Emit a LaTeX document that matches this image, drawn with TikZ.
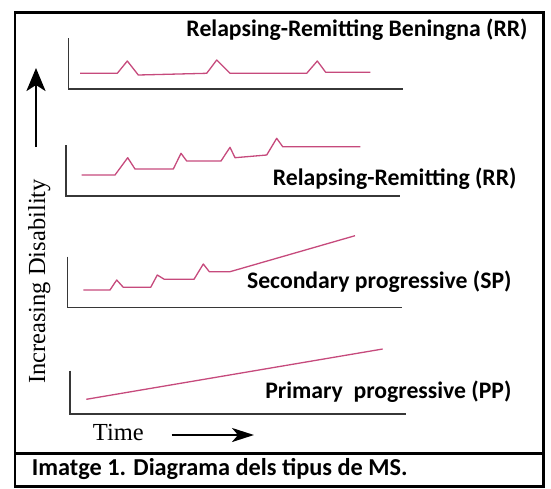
\documentclass[tikz,border=0pt]{standalone}
\usepackage{fontspec}
\setmainfont{Liberation Serif}
\newfontfamily\lblfont{Carlito}
\usetikzlibrary{arrows.meta}
\definecolor{curvec}{RGB}{198,74,124}
\definecolor{axisc}{RGB}{55,55,55}
\begin{document}
\begin{tikzpicture}[x=1pt,y=-1pt,
  curve/.style={draw=curvec, line width=1.3pt, line join=round},
  axisline/.style={draw=axisc, line width=1.3pt},
  lab/.style={font=\lblfont\bfseries\fontsize{23.7}{28}\selectfont, inner sep=0pt},
  ser/.style={font=\fontsize{24.5}{28}\selectfont, inner sep=0pt},
  bigarrow/.style={line width=2.8pt, -{Stealth[length=23pt,width=19pt,inset=6pt]}}]
\useasboundingbox (0,0) rectangle (551,488);
% frame
\draw[line width=2.5pt] (15,12.5) rectangle (543.5,486.5);
\draw[line width=2.5pt] (15,453.5) -- (543.5,453.5);
% panel 1
\draw[axisline] (68.8,38.3) -- (68.8,89) -- (402.7,89);
\draw[curve] (80,73.3) -- (117.3,73.3) -- (127.3,61) -- (138.3,75) -- (206.7,73.3) -- (216.7,60) -- (230,73.3) -- (306.7,73.3) -- (317.3,61) -- (325.7,72.3) -- (370.3,72.3);
\node[lab, anchor=base east] (t1) at (527.7,36.5) {Relapsing-Remitting Beningna (RR)};
% panel 2
\draw[axisline] (66,145) -- (66,196) -- (400.3,196);
\draw[curve] (81.7,175) -- (115,175) -- (127.7,157.7) -- (135,169) -- (173.3,169) -- (181,153.3) -- (186.7,161) -- (221,161) -- (230,147.3) -- (235,157.7) -- (266.7,155) -- (276.7,138.3) -- (282.7,146.7) -- (360.3,146.7);
\node[lab, anchor=base east] (t2) at (516.7,185.7) {Relapsing-Remitting (RR)};
% panel 3
\draw[axisline] (67.8,256.7) -- (67.8,307.5) -- (401.7,307.5);
\draw[curve] (83.3,290) -- (110,290) -- (116.7,280) -- (123.3,287.3) -- (150.7,287.3) -- (157.3,275) -- (164.3,279.3) -- (194,279.3) -- (203.3,264) -- (209.3,271.7) -- (230,271.7) -- (355,235.7);
\node[lab, anchor=base east] (t3) at (511.7,288) {Secondary progressive (SP)};
% panel 4
\draw[axisline] (70,370.5) -- (70,414) -- (406,414);
\draw[curve] (86.3,399.3) -- (382.7,349);
\node[lab, anchor=base east] (t4) at (511.7,398.5) {Primary\ \ progressive (PP)};
% axes labels
\coordinate (upA) at (36,147);
\coordinate (upB) at (36,68);
\draw[bigarrow] (upA) -- (upB);
\node[ser, rotate=90, anchor=base] (dis) at (45,281.5) {Increasing Disability};
\node[ser, anchor=base west] (time) at (92.7,440.7) {Time};
\coordinate (rtA) at (171.7,435);
\coordinate (rtB) at (254,435);
\draw[line width=2.5pt, -{Stealth[length=22pt,width=14pt,inset=6pt]}] (rtA) -- (rtB);
% caption
\node[lab, font=\lblfont\bfseries\fontsize{24.3}{28}\selectfont, anchor=base west] (cap) at (31.7,475) {Imatge 1. Diagrama dels tipus de MS.};
\end{tikzpicture}
\end{document}
